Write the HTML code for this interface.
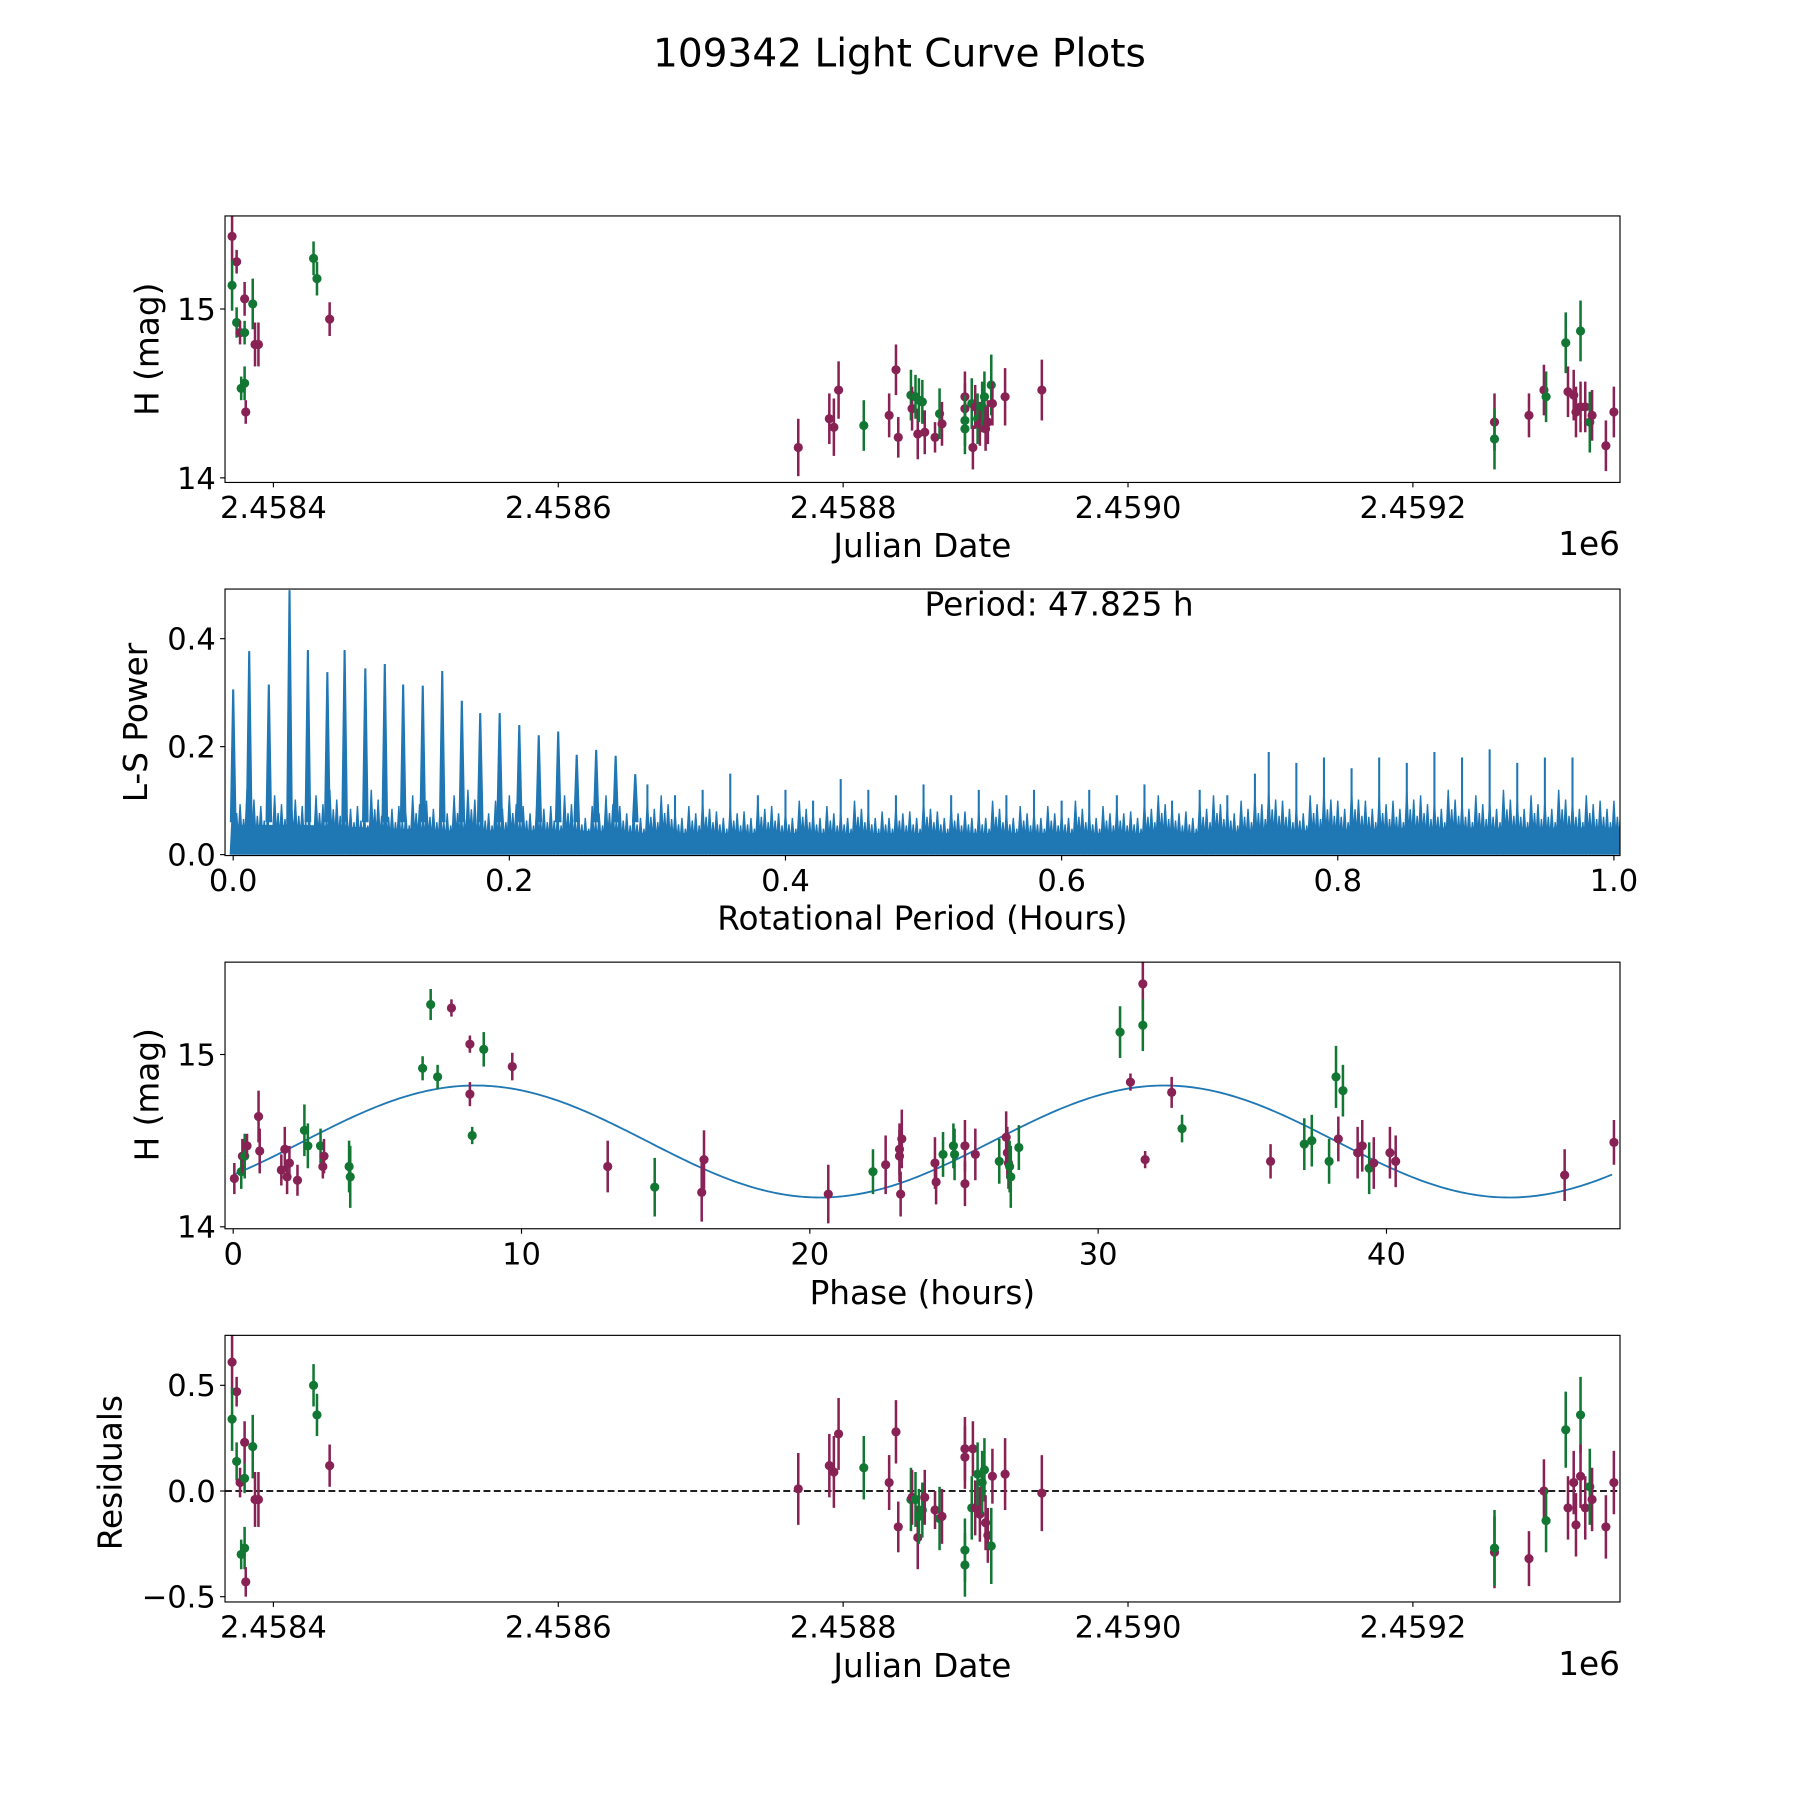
<!DOCTYPE html>
<html><head><meta charset="utf-8"><style>
html,body{margin:0;padding:0;background:#fff;}
svg{display:block;font-family:"DejaVu Sans","Liberation Sans",sans-serif;}
</style></head><body>
<svg id="fig" width="1800" height="1800" viewBox="0 0 1567 1567" xmlns="http://www.w3.org/2000/svg">
<rect width="1567" height="1567" fill="#fff"/>
<text x="783" y="58" font-size="34" text-anchor="middle">109342 Light Curve Plots</text>
</svg>
<script>
// ---------- Panel 1: light curve (days since JD 2458400) ----------
const lcDays=[-29,-25.8,-29,-25.8,-23.4,-20.2,-20.2,-14.5,-12.9,-10.5,-22.6,-20.2,-19.4,28.2,30.6,39.5,
368.5,390.3,393.5,396.8,414.5,432.3,437.1,438.7,447.6,448.4,450.8,452.4,453.2,455.6,457.3,464.5,467.7,469.4,
485.5,485.5,485.5,485.5,490.3,491.1,492.7,494.4,496,497.6,499.2,500,501.6,504,504.8,513.7,539.5,
857.3,857.3,881.5,892,893.5,907.3,908.9,912.9,914.5,917.7,917.7,921,924.2,925.8,935.5,941.1];
const lcMag=[15.43,15.28,15.14,14.92,14.86,14.86,15.06,15.03,14.79,14.79,14.53,14.56,14.39,15.30,15.18,14.94,
14.18,14.35,14.30,14.52,14.31,14.37,14.64,14.24,14.49,14.41,14.48,14.26,14.46,14.45,14.27,14.24,14.38,14.32,
14.48,14.41,14.34,14.29,14.44,14.18,14.42,14.35,14.32,14.42,14.48,14.29,14.33,14.55,14.44,14.48,14.52,
14.33,14.23,14.37,14.52,14.48,14.80,14.51,14.49,14.39,14.87,14.42,14.42,14.33,14.37,14.19,14.39];
const lcErr=[.15,.07,.15,.09,.07,.07,.1,.15,.13,.13,.07,.1,.07,.1,.1,.1,
.17,.15,.17,.17,.15,.13,.15,.12,.15,.13,.13,.15,.13,.13,.13,.09,.15,.13,
.15,.15,.15,.15,.15,.13,.13,.15,.13,.15,.15,.13,.13,.18,.13,.17,.18,
.17,.18,.13,.15,.15,.18,.15,.15,.15,.18,.15,.15,.18,.15,.15,.15];
const lcBand=["p","p","g","g","p","g","p","g","p","p","g","g","p","g","g","p",
"p","p","p","p","g","p","p","p","g","p","g","p","g","g","p","p","g","p",
"p","p","g","g","g","p","p","g","p","g","g","p","p","g","p","p","p",
"p","g","p","p","g","g","p","p","p","g","p","p","g","p","p","p"];

// ---------- Panel 2: Lomb-Scargle periodogram ----------
const lsPeakPeriod=[0.000,0.0116,0.0258,0.0408,0.0541,0.0682,0.0807,0.0957,0.1098,0.1231,0.1373,0.1514,0.1656,0.1789,0.1930,0.2072,0.2213,0.2354,0.2488,0.2629,0.2770,0.2912];
const lsPeakPower=[0.306,0.377,0.315,0.49,0.379,0.338,0.379,0.345,0.353,0.315,0.313,0.34,0.285,0.262,0.262,0.24,0.221,0.228,0.185,0.194,0.183,0.149];
const lsSecPeriod=[0.30,0.32,0.34,0.36,0.38,0.40,0.42,0.44,0.46,0.48,0.50,0.52,0.54,0.56,0.58,0.60,0.62,0.64,0.66,0.68,0.70,0.72,0.74,0.75,0.77,0.79,0.81,0.83,0.85,0.87,0.89,0.91,0.93,0.95,0.97];
const lsSecPower=[0.13,0.11,0.12,0.15,0.11,0.12,0.10,0.14,0.12,0.11,0.13,0.11,0.12,0.11,0.12,0.10,0.12,0.11,0.13,0.10,0.12,0.11,0.15,0.19,0.17,0.18,0.16,0.18,0.17,0.19,0.18,0.195,0.17,0.18,0.18];
const lsNoise=[0.11,0.12,0.09,0.11,0.12,0.09,0.11,0.12,0.10,0.09,0.12,0.10,0.09,0.11,0.10,0.09,0.11,0.12,0.09,0.10,
0.11,0.09,0.10,0.09,0.11,0.08,0.09,0.11,0.09,0.08,0.10,0.11,0.08,0.09,0.10,0.08,0.09,0.08,0.10,0.09,
0.08,0.10,0.08,0.09,0.08,0.10,0.08,0.08,0.09,0.08,0.10,0.08,0.09,0.08,0.08,0.10,0.08,0.09,0.08,0.09,
0.08,0.10,0.08,0.09,0.09,0.08,0.10,0.11,0.09,0.08,0.10,0.11,0.09,0.10,0.11,0.12,0.10,0.09,0.11,0.12,
0.10,0.12,0.10,0.11,0.10,0.12,0.11,0.10,0.12,0.10,0.11,0.10,0.12,0.10,0.11,0.10,0.12,0.10,0.11,0.10,0.10];
const lsBand=[0.055,0.055,0.05,0.045,0.045,0.045,0.04,0.04,0.04,0.04,0.04,0.04,0.04,0.04,0.04,0.045,0.045,0.05,0.05,0.05,0.05];

// ---------- Panel 3: phased curve ----------
const phHours=[0.04,0.28,0.32,0.4,0.48,0.88,0.92,1.67,1.79,1.87,1.95,2.23,2.47,2.59,3.03,3.11,3.15,4.02,4.06,6.57,6.85,7.09,7.57,8.21,8.21,8.29,8.69,9.68,12.99,14.62,16.25,16.33,20.64,22.19,22.63,23.11,23.15,23.19,23.11,24.34,24.38,24.62,24.98,25.02,25.38,25.38,25.74,26.57,26.81,26.85,26.89,26.93,26.97,27.25,30.76,31.12,31.55,31.55,31.63,32.55,32.91,35.98,37.15,37.41,38.01,38.25,38.33,38.49,39.0,39.16,39.4,39.56,40.12,40.32,46.18,47.89];
const phMag=[14.28,14.32,14.41,14.41,14.47,14.64,14.44,14.33,14.45,14.29,14.37,14.27,14.56,14.47,14.47,14.35,14.41,14.35,14.29,14.92,15.29,14.87,15.27,15.06,14.77,14.53,15.03,14.93,14.35,14.23,14.20,14.39,14.19,14.32,14.36,14.41,14.19,14.51,14.45,14.37,14.26,14.42,14.47,14.42,14.25,14.47,14.42,14.38,14.52,14.43,14.37,14.35,14.29,14.46,15.13,14.84,15.41,15.17,14.39,14.78,14.57,14.38,14.48,14.50,14.38,14.87,14.51,14.79,14.43,14.47,14.34,14.37,14.43,14.38,14.30,14.49];
const phErr=[.09,.1,.1,.13,.07,.15,.13,.09,.13,.1,.1,.09,.15,.13,.1,.07,.1,.15,.18,.07,.09,.07,.05,.05,.07,.05,.1,.08,.15,.17,.17,.17,.17,.13,.17,.15,.13,.17,.15,.15,.13,.13,.13,.15,.13,.15,.15,.13,.15,.15,.15,.15,.18,.13,.15,.05,.15,.15,.05,.09,.08,.1,.15,.15,.13,.18,.13,.15,.15,.15,.15,.15,.15,.15,.15,.13];
const phBand=["p","g","p","g","p","p","p","p","p","p","p","p","g","g","g","p","p","g","g","g","g","g","p","p","p","g","g","p","p","g","p","p","p","g","p","p","p","p","p","p","p","g","g","g","p","p","p","g","p","p","p","g","g","g","g","p","p","g","p","p","g","p","g","g","g","g","p","g","p","p","g","p","p","p","p","p"];
const modelMean=14.495, modelAmp=0.325, modelPeak=8.4, modelPeriod=23.9, phMax=47.825;

// ---------- Panel 4: residuals ----------
const rsDays=lcDays.slice();
const rsVal=[0.61,0.47,0.34,0.14,0.04,0.06,0.23,0.21,-0.04,-0.04,-0.30,-0.27,-0.43,0.50,0.36,0.12,
0.01,0.12,0.09,0.27,0.11,0.04,0.28,-0.17,-0.04,-0.03,-0.04,-0.22,-0.12,-0.09,-0.03,-0.09,-0.13,-0.12,
0.20,0.16,-0.28,-0.35,-0.08,0.20,-0.08,0.08,-0.11,0.04,0.10,-0.15,-0.21,-0.26,0.07,0.08,-0.01,
-0.29,-0.27,-0.32,0.00,-0.14,0.29,-0.08,0.04,-0.16,0.36,0.07,-0.08,0.02,-0.04,-0.17,0.04];
const rsErr=lcErr;
const rsBand=lcBand;

const NS="http://www.w3.org/2000/svg";
const svg=document.getElementById('fig');
const COL={p:"#882255",g:"#117733"};
const TF=26.6, LF=28.5;
function mk(tag,attrs,parent){const e=document.createElementNS(NS,tag);for(const k in attrs)e.setAttribute(k,attrs[k]);(parent||svg).appendChild(e);return e;}
const X0=195.9,X1=1410.3;
const panels=[{t:188,b:420},{t:512.8,b:744.8},{t:837.6,b:1069.7},{t:1162.5,b:1394.6}];
function lin(d0,d1,p0,p1){return v=>p0+(v-d0)*(p1-p0)/(d1-d0);}

function frame(p,name){
  const r=mk('rect',{x:X0,y:p.t,width:X1-X0,height:p.b-p.t,fill:'none',stroke:'#000','stroke-width':1});
  
  
}
function xticks(p,vals,labels,sx,name){
  const g=mk('g',{});
  
  
  vals.forEach((v,i)=>{const x=sx(v);
    mk('line',{x1:x,x2:x,y1:p.b,y2:p.b+4.3,stroke:'#000','stroke-width':1},g);
    const t=mk('text',{x:x,y:p.b+31,'font-size':TF,'text-anchor':'middle'},g);t.textContent=labels[i];});
}
function yticks(p,vals,labels,sy,name){
  const g=mk('g',{});
  
  
  vals.forEach((v,i)=>{const y=sy(v);
    mk('line',{x1:X0-4.3,x2:X0,y1:y,y2:y,stroke:'#000','stroke-width':1},g);
    const t=mk('text',{x:X0-8,y:y+9.5,'font-size':TF,'text-anchor':'end'},g);t.textContent=labels[i];});
}
function label(txt,x,y,rot,name){
  const t=mk('text',{x:x,y:y,'font-size':LF,'text-anchor':'middle'});
  if(rot)t.setAttribute('transform','rotate(-90 '+x+' '+y+')');
  t.textContent=txt;
  
  
}
function errpoints(g,xs,ys,es,bands,sx,sy){
  xs.forEach((d,i)=>{const x=sx(d),c=COL[bands[i]];
    const l=mk('line',{x1:x,x2:x,y1:sy(ys[i]-es[i]),y2:sy(ys[i]+es[i]),stroke:c,'stroke-width':2.2},g);
    
    
    const m=mk('circle',{cx:x,cy:sy(ys[i]),r:4,fill:c},g);
    
    
  });
}
const defs=mk('defs',{});
panels.forEach((p,i)=>{const cp=mk('clipPath',{id:'clip'+i},defs);mk('rect',{x:X0,y:p.t,width:X1-X0,height:p.b-p.t},cp);});

// Panel 1
(function(){
  const p=panels[0];
  const sx=lin(0,200,238,486), sy=lin(14,15,416,269);
  const g=mk('g',{'clip-path':'url(#clip0)'});
  
  
  errpoints(g,lcDays,lcMag,lcErr,lcBand,sx,sy);
  frame(p,'light-curve');
  xticks(p,[0,200,400,600,800],['2.4584','2.4586','2.4588','2.4590','2.4592'],sx,'light-curve');
  yticks(p,[14,15],['14','15'],sy,'light-curve');
  label('Julian Date',803,485,false,'x-axis-title-julian-date');
  label('H (mag)',138,304,true,'y-axis-title-h-mag');
  const o=mk('text',{x:X1,y:483,'font-size':LF,'text-anchor':'end'});o.textContent='1e6';
  
  
})();

// Panel 2
(function(){
  const p=panels[1];
  const sx=lin(0,1,203,1405), sy=lin(0,0.4,744,556);
  const g=mk('g',{'clip-path':'url(#clip1)'});
  
  
  let d='';
  lsNoise.forEach((v,i)=>{const per=i/(lsNoise.length-1);
    [0,0.0025,0.005,0.0075].forEach((o,k)=>{const x=sx(per+o);const h=v*[1,0.7,0.85,0.6][k];
      d+='M'+(x-2.5)+' '+sy(0)+'L'+x+' '+sy(h)+'L'+(x+2.5)+' '+sy(0);});});
  mk('path',{d:d,fill:'#1f77b4',stroke:'#1f77b4','stroke-width':1.2},g);
  let bd='M'+sx(0)+' '+sy(0);
  lsBand.forEach((v,i)=>{bd+='L'+sx(i/(lsBand.length-1))+' '+sy(v);});
  bd+='L'+sx(1)+' '+sy(0)+'Z';
  const band=mk('path',{d:bd,fill:'#1f77b4'},g);
  
  
  lsPeakPeriod.forEach((per,i)=>{const x=sx(per);
    const l=mk('path',{d:'M'+(x-2)+' '+sy(0.06)+'L'+x+' '+sy(lsPeakPower[i])+'L'+(x+2)+' '+sy(0.06),fill:'#1f77b4',stroke:'#1f77b4','stroke-width':1.8},g);
    
    });
  lsSecPeriod.forEach((per,i)=>{const x=sx(per);
    const l=mk('line',{x1:x,x2:x,y1:sy(0.05),y2:sy(lsSecPower[i]),stroke:'#1f77b4','stroke-width':1.8},g);
    
    });
  frame(p,'periodogram');
  xticks(p,[0,0.2,0.4,0.6,0.8,1.0],['0.0','0.2','0.4','0.6','0.8','1.0'],sx,'periodogram');
  yticks(p,[0,0.2,0.4],['0.0','0.2','0.4'],sy,'periodogram');
  label('Rotational Period (Hours)',803,809,false,'x-axis-title-rotational-period');
  label('L-S Power',128,629,true,'y-axis-title-ls-power');
  const t=mk('text',{x:922,y:536,'font-size':LF,'text-anchor':'middle'});t.textContent='Period: 47.825 h';
  
  
})();

// Panel 3
(function(){
  const p=panels[2];
  const sx=lin(0,10,203,454), sy=lin(14,15,1068,918);
  const g=mk('g',{'clip-path':'url(#clip2)'});
  
  
  let d='';
  for(let i=0;i<=400;i++){const t=phMax*i/400;const m=modelMean+modelAmp*Math.cos(2*Math.PI*(t-modelPeak)/modelPeriod);d+=(i?'L':'M')+sx(t).toFixed(2)+' '+sy(m).toFixed(2);}
  const c=mk('path',{d:d,fill:'none',stroke:'#1f77b4','stroke-width':1.6},g);
  
  
  errpoints(g,phHours,phMag,phErr,phBand,sx,sy);
  frame(p,'phased');
  xticks(p,[0,10,20,30,40],['0','10','20','30','40'],sx,'phased');
  yticks(p,[14,15],['14','15'],sy,'phased');
  label('Phase (hours)',803,1135,false,'x-axis-title-phase');
  label('H (mag)',138,953,true,'y-axis-title-h-mag-phased');
})();

// Panel 4
(function(){
  const p=panels[3];
  const sx=lin(0,200,238,486), sy=lin(0,0.5,1298,1206);
  const z=mk('line',{x1:X0,x2:X1,y1:sy(0),y2:sy(0),stroke:'#000','stroke-width':1.6,'stroke-dasharray':'6,3'});
  
  
  const g=mk('g',{'clip-path':'url(#clip3)'});
  
  
  errpoints(g,rsDays,rsVal,rsErr,rsBand,sx,sy);
  frame(p,'residuals');
  xticks(p,[0,200,400,600,800],['2.4584','2.4586','2.4588','2.4590','2.4592'],sx,'residuals');
  yticks(p,[-0.5,0,0.5],['\u22120.5','0.0','0.5'],sy,'residuals');
  label('Julian Date',803,1460,false,'x-axis-title-julian-date-residuals');
  label('Residuals',106,1282,true,'y-axis-title-residuals');
  const o=mk('text',{x:X1,y:1458,'font-size':LF,'text-anchor':'end'});o.textContent='1e6';
  
  
})();
</script>
</body></html>
